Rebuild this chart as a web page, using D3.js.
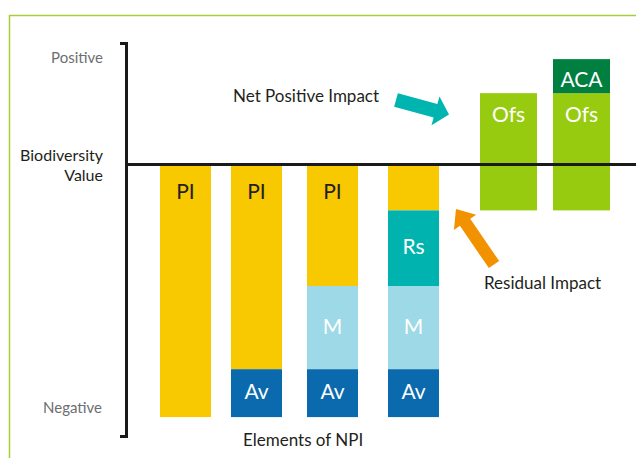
<!DOCTYPE html>
<html><head><meta charset="utf-8">
<script src="https://cdn.jsdelivr.net/npm/d3@7"></script>
<style>
html,body{margin:0;padding:0;background:#fff;}
svg{display:block;font-family:Lato,"Open Sans",sans-serif;}
</style></head>
<body><svg id="chart" width="636" height="458"></svg>
<script>
// ---- data ----
const categories = ["Predicted impact","Avoid","Minimise","Restore","Offset","Additional conservation"];
const piValues  = [10, 8.1, 4.8, 1.8, 0, 0];
const rsValues  = [0, 0, 0, 3.0, 0, 0];
const mValues   = [0, 0, 3.3, 3.3, 0, 0];
const avValues  = [0, 1.9, 1.9, 1.9, 0, 0];
const ofsBase   = [0, 0, 0, 0, -1.8, -1.8];
const ofsValues = [0, 0, 0, 0, 4.65, 4.65];
const acaValues = [0, 0, 0, 0, 0, 1.35];
const labelPI = [true, true, true, false, false, false];
const yTickLabels = ["Positive", "Negative"];
const yTitle = ["Biodiversity", "Value"];
const xTitle = "Elements of NPI";
const noteNet = "Net Positive Impact";
const noteResidual = "Residual Impact";

const colors = {PI:"#f8c800", Rs:"#00b3ae", M:"#9dd9e6", Av:"#0a6aad", Ofs:"#97cb10", ACA:"#007f40"};
const textColors = {PI:"#231f20", Rs:"#fff", M:"#fff", Av:"#fff", Ofs:"#fff", ACA:"#fff"};

// ---- build segments ----
const segments = [];
categories.forEach((c, i) => {
  let cur = 0;
  [["PI", piValues], ["Rs", rsValues], ["M", mValues], ["Av", avValues]].forEach(([k, arr]) => {
    if (arr[i] > 0) {
      segments.push({cat: c, key: k, y0: cur, y1: cur - arr[i], label: k !== "PI" || labelPI[i]});
      cur -= arr[i];
    }
  });
  let up = ofsBase[i];
  [["Ofs", ofsValues], ["ACA", acaValues]].forEach(([k, arr]) => {
    if (arr[i] > 0) {
      segments.push({cat: c, key: k, y0: up + arr[i], y1: up, label: true});
      up += arr[i];
    }
  });
});

const svg = d3.select("#chart");

// frame
svg.append("path").attr("d", "M9.5,458V15.5H636").attr("fill", "none")
  .attr("stroke", "#a6ce39").attr("stroke-width", 1.5);

const y = d3.scaleLinear().domain([-10.75, 4.84]).range([436, 43]);
const x = d3.scaleOrdinal().domain(categories).range([160, 231, 307, 388, 480, 553]);
const w = d3.scaleOrdinal().domain(categories).range([51, 51, 51, 51, 57, 57]);

// bars
const g = svg.append("g");
g.selectAll("rect").data(segments).join("rect")
  .attr("x", d => x(d.cat))
  .attr("width", d => w(d.cat))
  .attr("y", d => y(d.y0))
  .attr("height", d => y(d.y1) - y(d.y0))
  .attr("fill", d => colors[d.key]);

// baseline
svg.append("line").attr("x1", 125).attr("x2", 636)
  .attr("y1", y(0) - 0.5).attr("y2", y(0) - 0.5)
  .attr("stroke", "#1a1a1a").attr("stroke-width", 3);

// y axis (bracket)
const yAxis = d3.axisLeft(y).tickValues([]).tickSizeOuter(6);
const ya = svg.append("g").attr("transform", "translate(126,0)").call(yAxis);
ya.select(".domain").attr("stroke", "#1a1a1a").attr("stroke-width", 3);

// segment labels
g.selectAll("text").data(segments.filter(d => d.label)).join("text")
  .attr("x", d => x(d.cat) + w(d.cat) / 2)
  .attr("y", d => {
    const top = y(d.y0), bot = y(d.y1);
    if (d.key === "PI") return top + 34;
    if (d.key === "Ofs") return top + 29;
    if (d.key === "ACA") return bot - 6;
    return (top + bot) / 2 + 6;
  })
  .attr("text-anchor", "middle")
  .attr("font-size", 21)
  .attr("fill", d => textColors[d.key])
  .text(d => d.key);

// axis texts
svg.append("text").attr("x", 103).attr("y", 63).attr("text-anchor", "end")
  .attr("font-size", 15).attr("fill", "#6d6e70").text(yTickLabels[0]);
svg.append("text").attr("x", 102).attr("y", 413).attr("text-anchor", "end")
  .attr("font-size", 15).attr("fill", "#6d6e70").text(yTickLabels[1]);
svg.append("text").attr("x", 103).attr("y", y(0) - 4).attr("text-anchor", "end")
  .attr("font-size", 16).attr("fill", "#231f20").text(yTitle[0]);
svg.append("text").attr("x", 103).attr("y", y(0) + 16).attr("text-anchor", "end")
  .attr("font-size", 16).attr("fill", "#231f20").text(yTitle[1]);
svg.append("text").attr("x", 243).attr("y", 446)
  .attr("font-size", 17).attr("fill", "#231f20").text(xTitle);

// annotations
svg.append("text").attr("x", 233).attr("y", 102)
  .attr("font-size", 17).attr("fill", "#231f20").text(noteNet);
svg.append("text").attr("x", 484).attr("y", 289)
  .attr("font-size", 17).attr("fill", "#231f20").text(noteResidual);

function arrow(tail, tip, shaftW, headW, headL) {
  const dx = tip[0] - tail[0], dy = tip[1] - tail[1];
  const L = Math.hypot(dx, dy), ux = dx / L, uy = dy / L, px = -uy, py = ux;
  const b = [tip[0] - ux * headL, tip[1] - uy * headL];
  const pts = [
    [tail[0] + px * shaftW / 2, tail[1] + py * shaftW / 2],
    [b[0] + px * shaftW / 2, b[1] + py * shaftW / 2],
    [b[0] + px * headW / 2, b[1] + py * headW / 2],
    tip,
    [b[0] - px * headW / 2, b[1] - py * headW / 2],
    [b[0] - px * shaftW / 2, b[1] - py * shaftW / 2],
    [tail[0] - px * shaftW / 2, tail[1] - py * shaftW / 2]
  ];
  return d3.line()(pts) + "Z";
}
const ofsCat = categories[4], rsCat = categories[3];
svg.append("path")
  .attr("d", arrow([396, y(2.58)], [x(ofsCat) - 31, y(2.0)], 14, 30, 14))
  .attr("fill", "#00b4b0");
svg.append("path")
  .attr("d", arrow([494, y(-3.95)], [x(rsCat) + w(rsCat) + 17, y(-1.75)], 12.5, 27, 16))
  .attr("fill", "#f39200");
</script></body></html>
